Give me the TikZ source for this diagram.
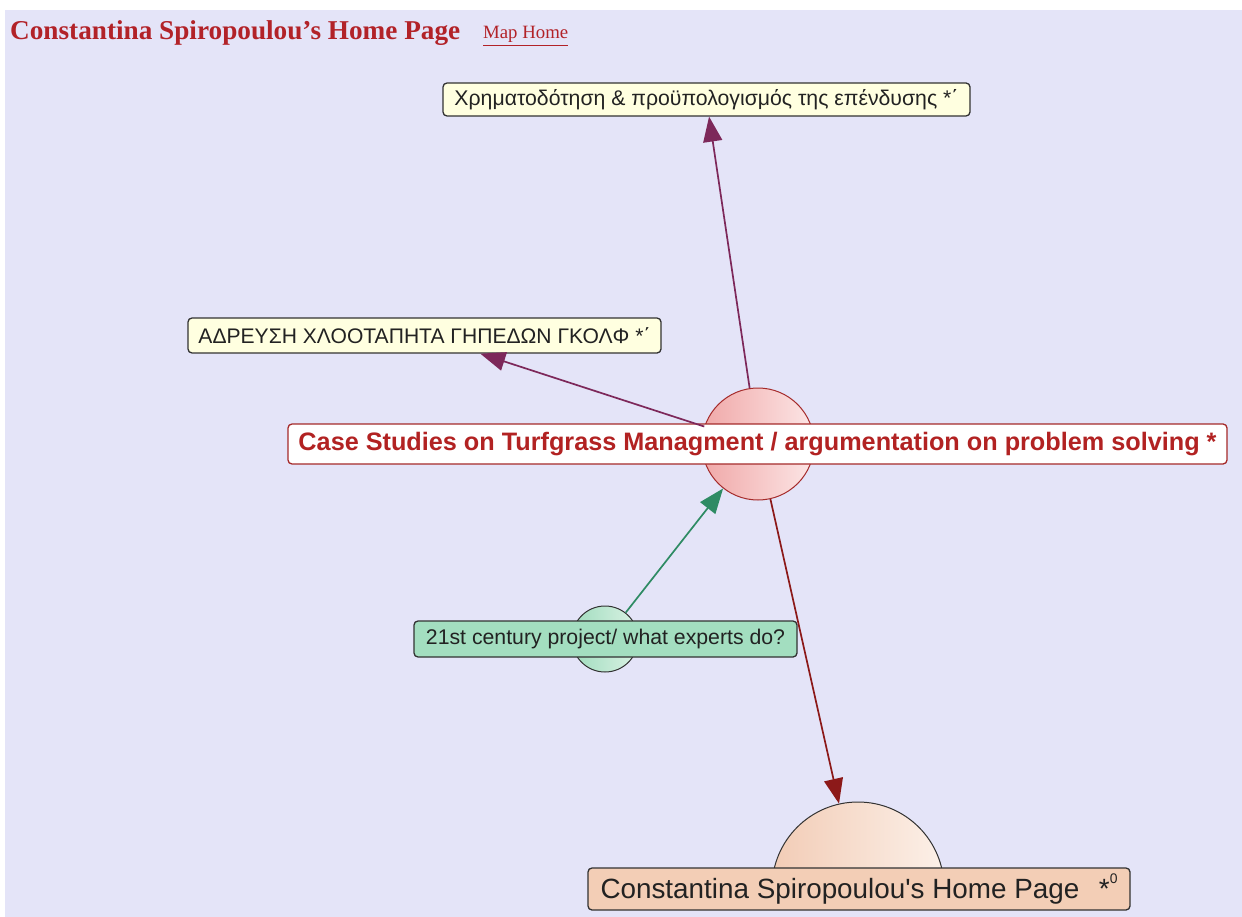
\documentclass[tikz,border=0pt]{standalone}
\usepackage{graphicx}
\usepackage{fontspec}
\setmainfont{Liberation Serif}
\setsansfont{Liberation Sans}
% same face, without the TeX quote mapping
\newfontfamily\plainsans{Liberation Sans}
\usetikzlibrary{arrows.meta}

% palette
\definecolor{pagebg}{RGB}{228,228,248}
\definecolor{titlered}{RGB}{178,34,40}
\definecolor{boxline}{RGB}{50,50,50}
\definecolor{labeltext}{RGB}{34,34,34}
\definecolor{noteyellow}{RGB}{255,255,224}
\definecolor{mintbox}{RGB}{163,222,192}
\definecolor{peachbox}{RGB}{243,206,182}
\definecolor{caseline}{RGB}{165,42,42}
\definecolor{casetext}{RGB}{178,34,34}
\definecolor{plumlink}{RGB}{125,40,90}
\definecolor{greenlink}{RGB}{46,139,100}
\definecolor{redlink}{RGB}{140,25,25}

% scale a text to a given width
\newcommand{\fitto}[2]{\resizebox{#1}{!}{#2}}

\tikzset{
  lbl/.style={draw=boxline, line width=1.3pt, rounded corners=4pt,
              inner sep=0pt, text=labeltext, font=\sffamily},
  hub/.style={circle, inner sep=0pt, line width=1pt, draw=#1},
  link/.style={draw=#1, line width=1.7pt,
               -{Triangle[length=25pt,width=19pt]}},
}

\begin{document}
\begin{tikzpicture}[x=1pt,y=-1pt]
\useasboundingbox (0,0) rectangle (1242,917);
\fill[white] (0,0) rectangle (1242,917);
\fill[pagebg] (5,10) rectangle (1242,917);

% page header
\node[anchor=base west, inner sep=0pt, text=titlered] (title) at (10,40)
  {\fitto{450pt}{\bfseries Constantina Spiropoulou's Home Page}};
\node[anchor=base west, inner sep=0pt, text=titlered] (maphome) at (483,39)
  {\fitto{85pt}{\underline{Map Home}}};

% concept circles
\node[hub=caseline, minimum size=112pt, left color={rgb,255:red,240;green,168;blue,168},
      right color={rgb,255:red,252;green,230;blue,230}] (case) at (758,444) {};
\node[hub=boxline, minimum size=66pt, left color={rgb,255:red,160;green,220;blue,190},
      right color={rgb,255:red,218;green,242;blue,228}] (expert) at (605,639) {};
\begin{scope}
  \clip (0,0) rectangle (1242,900);
  \node[hub=boxline, minimum size=172pt, left color={rgb,255:red,242;green,204;blue,182},
        right color={rgb,255:red,252;green,240;blue,232}] (home) at (858,888) {};
\end{scope}

% labels
\node[lbl, fill=noteyellow, minimum width=527pt, minimum height=33pt] (funding) at (706.5,99.5)
  {\fitto{504pt}{Χρηματοδότηση \& προϋπολογισμός της επένδυσης *΄}};
\node[lbl, fill=noteyellow, minimum width=473pt, minimum height=35pt] (irrig) at (424.5,335.5)
  {\fitto{452pt}{ΑΔΡΕΥΣΗ ΧΛΟΟΤΑΠΗΤΑ ΓΗΠΕΔΩΝ ΓΚΟΛΦ *΄}};
\node[lbl, fill=white, draw=caseline, text=casetext, minimum width=939pt, minimum height=40pt]
  (caselbl) at (757.5,444)
  {\fitto{918pt}{\bfseries Case Studies on Turfgrass Managment / argumentation on problem solving *}};
\node[lbl, fill=mintbox, minimum width=383pt, minimum height=36pt] (expertlbl) at (605.5,639)
  {\fitto{359pt}{21st century project/ what experts do?}};
\node[lbl, fill=peachbox, minimum width=542pt, minimum height=42pt] (homelbl) at (859,889)
  {\fitto{517pt}{\plainsans Constantina Spiropoulou's Home Page\hspace{0.7em}*\raisebox{0.55em}{\fontsize{5pt}{6pt}\selectfont 0}}};

% connectors
\draw[link=plumlink] (case) -- (funding);
\draw[link=plumlink] (case) -- (irrig);
\draw[link=greenlink] (expert) -- (case);
\draw[link=redlink] (case) -- (home);
\end{tikzpicture}
\end{document}
